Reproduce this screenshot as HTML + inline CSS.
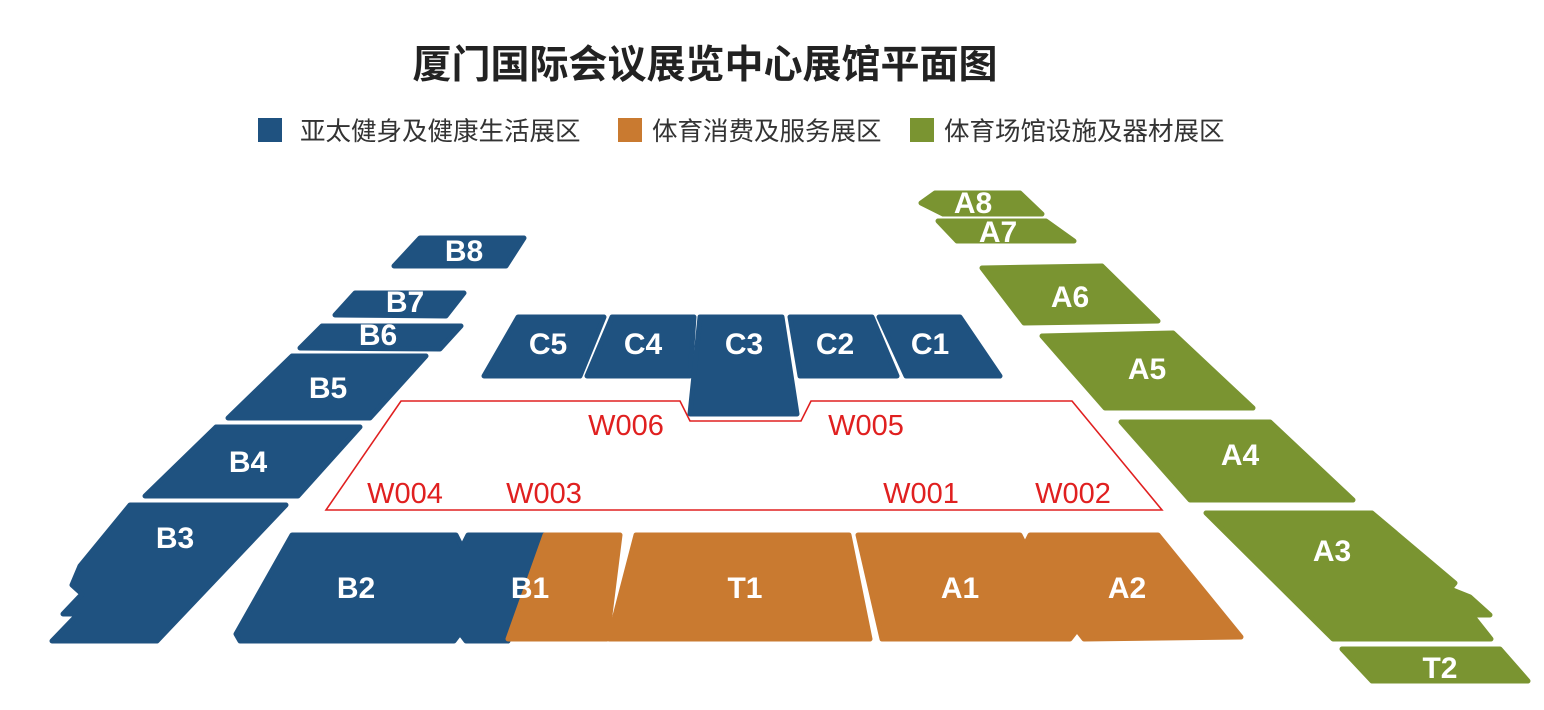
<!DOCTYPE html>
<html><head><meta charset="utf-8"><style>
body{margin:0;background:#fff;width:1544px;height:705px;overflow:hidden}
svg text{font-family:"Liberation Sans","Noto Sans CJK SC",sans-serif}
</style></head><body>
<svg width="1544" height="705" viewBox="0 0 1544 705" xmlns="http://www.w3.org/2000/svg">
<text x="705" y="78" font-size="39" font-weight="bold" fill="#222" text-anchor="middle">厦门国际会议展览中心展馆平面图</text>
<rect x="258" y="118" width="24" height="24" fill="#1f5280"/>
<text x="300" y="140" font-size="25.5" fill="#333">亚太健身及健康生活展区</text>
<rect x="618" y="118" width="24" height="24" fill="#c97a30"/>
<text x="652" y="140" font-size="25.5" fill="#333">体育消费及服务展区</text>
<rect x="910" y="118" width="24" height="24" fill="#7a9431"/>
<text x="944" y="140" font-size="25.5" fill="#333">体育场馆设施及器材展区</text>

<g fill="#1f5280" stroke="#1f5280" stroke-width="5" stroke-linejoin="round">
<polygon points="394,266 420,238 524,238 506,266"/>
<polygon points="335,315 355,293 464,293 446,316"/>
<polygon points="300,348 322,326 461,326 440,349"/>
<polygon points="228,418 292,356 426,356 370,418"/>
<polygon points="145,496 216,427 360,427 298,496"/>
<polygon points="130,505 286,505 157,641 52,641 78,614 63,614 82,594 72,585 80,566"/>
<polygon points="236,634 292,535 456,535 462,547 468,535 545,535 508,641 466,641 460,633 454,641 240,641"/>
<polygon points="484,376 518,317 604,317 580,376"/>
<polygon points="587,376 612,317 694,317 690,376"/>
<polygon points="700,317 782,317 797,414 690,414"/>
<polygon points="790,317 872,317 897,376 800,376"/>
<polygon points="879,317 960,317 1000,376 906,376"/>
</g>
<g fill="#c97a30" stroke="#c97a30" stroke-width="5" stroke-linejoin="round">
<polygon points="545,535 620,535 607,639 508,639"/>
<polygon points="636,535 849,535 870,639 609,639"/>
<polygon points="858,535 1020,535 1025,545 1030,535 1158,535 1241,637 1084,639 1077,630 1070,639 882,639"/>
</g>
<g fill="#7a9431" stroke="#7a9431" stroke-width="5" stroke-linejoin="round">
<polygon points="921,203 935,193 1020,193 1042,214 943,214"/>
<polygon points="938,221 1046,221 1074,241 957,241"/>
<polygon points="982,268 1102,266 1158,321 1024,323"/>
<polygon points="1042,336 1173,333 1253,408 1105,408"/>
<polygon points="1121,422 1270,422 1353,500 1190,500"/>
<polygon points="1206,513 1372,513 1455,583 1450,589 1470,597 1490,615 1472,615 1491,639 1333,639"/>
<polygon points="1342,649 1500,649 1528,681 1372,681"/>
</g>

<polygon points="326,510 401,401 680,401 690,421 801,421 811,401 1072,401 1162,510" fill="none" stroke="#e02020" stroke-width="1.6"/>

<g font-size="30" font-weight="bold" fill="#fff" text-anchor="middle">
<text x="464" y="261">B8</text>
<text x="405" y="312">B7</text>
<text x="378" y="345">B6</text>
<text x="328" y="398">B5</text>
<text x="248" y="472">B4</text>
<text x="175" y="548">B3</text>
<text x="356" y="598">B2</text>
<text x="530" y="598">B1</text>
<text x="548" y="354">C5</text>
<text x="643" y="354">C4</text>
<text x="744" y="354">C3</text>
<text x="835" y="354">C2</text>
<text x="930" y="354">C1</text>
<text x="745" y="598">T1</text>
<text x="960" y="598">A1</text>
<text x="1127" y="598">A2</text>
<text x="973" y="213">A8</text>
<text x="998" y="242">A7</text>
<text x="1070" y="307">A6</text>
<text x="1147" y="379">A5</text>
<text x="1240" y="465">A4</text>
<text x="1332" y="561">A3</text>
<text x="1440" y="678">T2</text>
</g>
<g font-size="29" fill="#e02020" text-anchor="middle">
<text x="626" y="435">W006</text>
<text x="866" y="435">W005</text>
<text x="405" y="503">W004</text>
<text x="544" y="503">W003</text>
<text x="921" y="503">W001</text>
<text x="1073" y="503">W002</text>
</g>
</svg>
</body></html>
